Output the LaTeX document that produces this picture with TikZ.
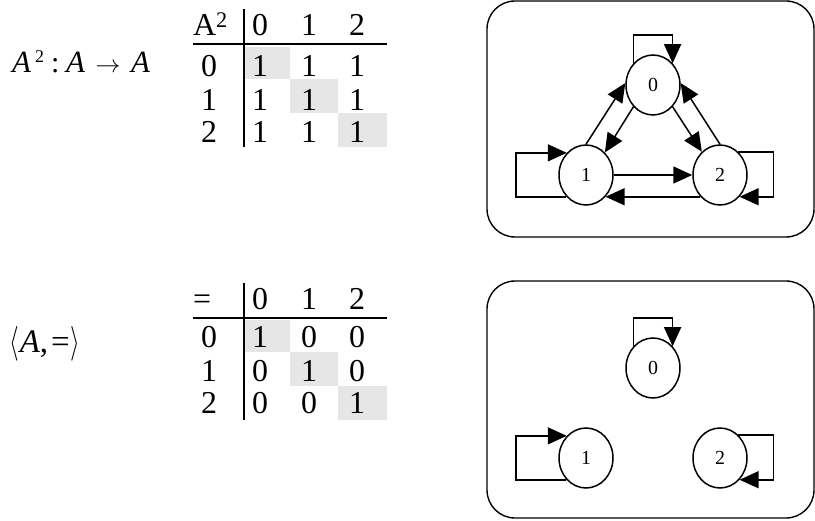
\documentclass[tikz,border=0pt]{standalone}
\usepackage{fontspec}
\setmainfont{Liberation Serif}
\usetikzlibrary{arrows.meta,shapes.geometric,calc}
\definecolor{shadegray}{HTML}{E6E6E6}
\begin{document}
\begin{tikzpicture}[x=1bp,y=-1bp,
  cell/.style={font=\fontsize{32}{32}\selectfont, inner sep=0pt, anchor=base},
  lab/.style={font=\fontsize{30}{30}\selectfont, inner sep=0pt, anchor=base west},
  st/.style={draw, ellipse, line width=1.5bp, minimum width=54bp, minimum height=60bp, inner sep=0pt, font=\fontsize{20}{20}\selectfont},
  arr/.style={line width=1.5bp, -{Triangle[length=19bp,width=17bp]}},
  frame/.style={draw, line width=1.4bp, rounded corners=28bp},
  rule/.style={line width=1.7bp}
]
\useasboundingbox (0,0) rectangle (815,521);

% ---------- top row ----------
\node[lab, font=\fontsize{31}{31}\selectfont] (fA) at (12,73) {\textit{A}};
\node[lab, font=\fontsize{18}{18}\selectfont] (f2) at (35,63) {2};
\node[lab] (fcol) at (51,73) {:};
\node[lab, font=\fontsize{31}{31}\selectfont] (fB) at (66,73) {\textit{A}};
\node[cell, font=\fontsize{32}{32}\selectfont] (farr) at (108,73) {$\rightarrow$};
\node[lab, font=\fontsize{31}{31}\selectfont] (fC) at (131,73) {\textit{A}};

\fill[shadegray] (245,47) rectangle (290,79);
\fill[shadegray] (290,79) rectangle (338,113);
\fill[shadegray] (338,113) rectangle (387,147);
\draw[rule] (193,44) -- (387,44);
\draw[rule] (244,9) -- (244,147);
\node[cell, anchor=base west] (th) at (193,36) {A\textsuperscript{2}};
\foreach \c/\x in {0/260,1/309,2/357} { \node[cell] (tc\c) at (\x,36) {\c}; }
\foreach \r/\y in {0/77,1/111,2/143} {
  \node[cell] (tr\r) at (209,\y) {\r};
  \foreach \c/\x in {0/260,1/309,2/357} { \node[cell] (t\r\c) at (\x,\y) {1}; }
}

\draw[frame] (487,1) rectangle (814,237);
\node[st] (a0) at (653,85) {0};
\node[st] (a1) at (586,175) {1};
\node[st] (a2) at (720,175) {2};
\draw[arr] (a1.north) -- (a0.176);
\draw[arr] (a0.228) -- (a1.50);
\draw[arr] (a0.-48) -- (a2.128);
\draw[arr] (a2.north) -- (a0.4);
\draw[arr] (a1.east) -- (a2.west);
\draw[arr] (a2.228) -- (a1.312);
\draw[arr] (a0.132) |- ($(a0.48)+(0,-28)$) -- (a0.48);
\draw[arr] (a1.228) -| ($(a1.131)+(-51,0)$) -- (a1.131);
\draw[arr] (a2.52) -| ($(a2.-48)+(34,0)$) -- (a2.-48);

% ---------- bottom row ----------
\node[lab, font=\fontsize{33}{33}\selectfont] (rel) at (9,352) {\scalebox{1}[1.4]{$\langle$}\kern1bp\textit{A},\kern3bp=\kern1bp\scalebox{1}[1.4]{$\rangle$}};

\fill[shadegray] (245,320) rectangle (290,352);
\fill[shadegray] (290,352) rectangle (338,386);
\fill[shadegray] (338,386) rectangle (387,420);
\draw[rule] (193,318) -- (387,318);
\draw[rule] (244,283) -- (244,420);
\node[cell, anchor=base west] (eh) at (193,310) {=};
\foreach \c/\x in {0/260,1/309,2/357} { \node[cell] (ec\c) at (\x,310) {\c}; }
\foreach \r/\y in {0/347,1/381,2/413} {
  \node[cell] (er\r) at (209,\y) {\r};
  \foreach \c/\x in {0/260,1/309,2/357} {
    \pgfmathtruncatemacro{\v}{\r==\c ? 1 : 0}
    \node[cell] (e\r\c) at (\x,\y) {\v};
  }
}

\draw[frame] (487,281) rectangle (814,518);
\node[st] (b0) at (653,368) {0};
\node[st] (b1) at (586,458) {1};
\node[st] (b2) at (720,458) {2};
\draw[arr] (b0.132) |- ($(b0.48)+(0,-28)$) -- (b0.48);
\draw[arr] (b1.228) -| ($(b1.131)+(-51,0)$) -- (b1.131);
\draw[arr] (b2.52) -| ($(b2.-48)+(34,0)$) -- (b2.-48);
\end{tikzpicture}
\end{document}
